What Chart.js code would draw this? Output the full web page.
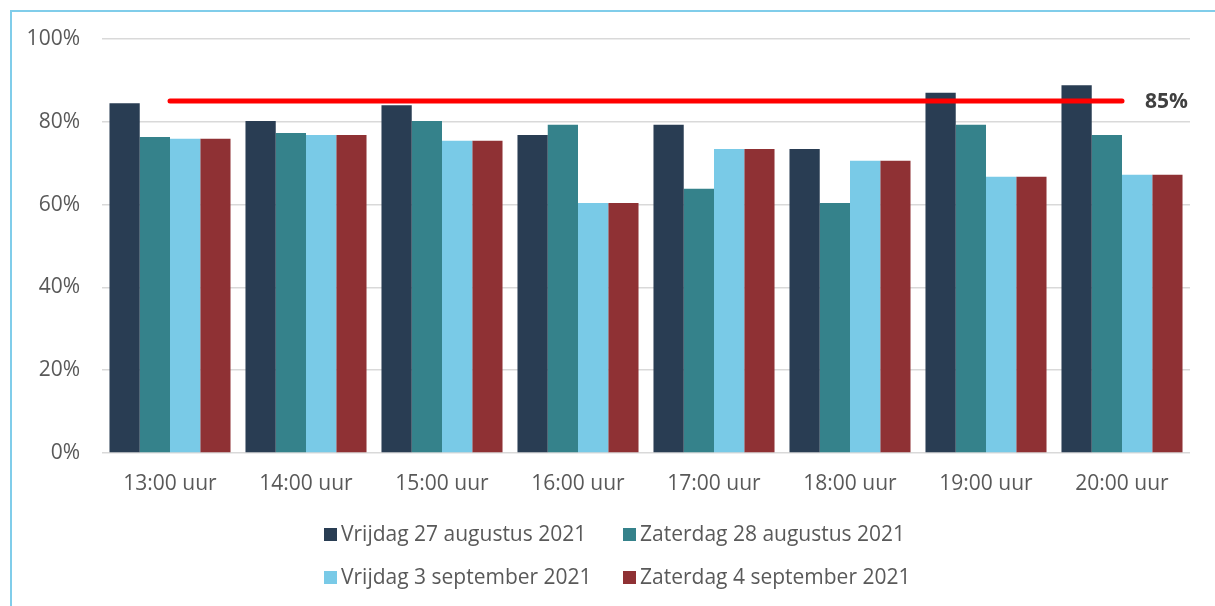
<!DOCTYPE html>
<html>
<head>
<meta charset="utf-8">
<script src="https://cdn.jsdelivr.net/npm/chart.js@4/dist/chart.umd.min.js"></script>
<style>
  html, body { margin: 0; padding: 0; background: #fff; }
  #wrap { position: relative; width: 1215px; height: 606px; overflow: hidden; }
  #frame { position: absolute; left: 10px; top: 10px; width: 1300px; height: 700px;
           border-left: 2px solid #80cdea; border-top: 2px solid #80cdea; }
  #holder { position: absolute; left: 0; top: 0; width: 1215px; height: 606px; }
</style>
</head>
<body>
<div id="wrap">
  <div id="frame"></div>
  <div id="holder"><canvas id="grafiek"></canvas></div>
</div>
<script>
// ===============================
// DATA
// ===============================

const uren = ["13:00 uur", "14:00 uur", "15:00 uur", "16:00 uur", "17:00 uur", "18:00 uur", "19:00 uur", "20:00 uur"];

const vrijdag27aug  = [84.5, 80.2, 84.0, 76.8, 79.3, 73.4, 87.0, 88.8];
const zaterdag28aug = [76.3, 77.3, 80.2, 79.3, 63.8, 60.4, 79.3, 76.8];
const vrijdag3sep   = [75.9, 76.8, 75.4, 60.4, 73.4, 70.6, 66.7, 67.2];
const zaterdag4sep  = [75.9, 76.8, 75.4, 60.4, 73.4, 70.6, 66.7, 67.2];

const norm = 85;
const yTicks = [0, 20, 40, 60, 80, 100];

const lettertype = "'Open Sans', 'Noto Sans', sans-serif";

// ===============================
// PLUGINS
// ===============================

// label "85%" naast het eind van de rode lijn
const normLabel = {
    id: "normLabel",
    afterDatasetsDraw(chart) {
        const meta = chart.getDatasetMeta(4);
        const p = meta.data[meta.data.length - 1];
        const ctx = chart.ctx;
        ctx.save();
        ctx.font = "bold 21px " + lettertype;
        ctx.fillStyle = "#404040";
        ctx.textAlign = "left";
        ctx.textBaseline = "middle";
        ctx.fillText(norm + "%", p.x + 23, p.y + 1);
        ctx.restore();
    }
};

// legenda in twee rijen van twee
const legenda = {
    id: "legenda",
    afterDraw(chart) {
        const ctx = chart.ctx;
        const kolommen = [324, 623];
        const rijen = [535, 578];
        ctx.save();
        ctx.font = "21px " + lettertype;
        ctx.textBaseline = "middle";
        ctx.textAlign = "left";
        chart.data.datasets.slice(0, 4).forEach((ds, i) => {
            const x = kolommen[i % 2];
            const y = rijen[Math.floor(i / 2)];
            ctx.fillStyle = ds.backgroundColor;
            ctx.fillRect(x, y - 7, 13, 13);
            ctx.fillStyle = "#595959";
            ctx.fillText(ds.label, x + 17, y);
        });
        ctx.restore();
    }
};

// ===============================
// GRAFIEK
// ===============================

new Chart(document.getElementById("grafiek"), {
    type: "bar",
    data: {
        labels: uren,
        datasets: [
            { label: "Vrijdag 27 augustus 2021", data: vrijdag27aug, backgroundColor: "#293d53", order: 1 },
            { label: "Zaterdag 28 augustus 2021", data: zaterdag28aug, backgroundColor: "#35828b", order: 1 },
            { label: "Vrijdag 3 september 2021", data: vrijdag3sep, backgroundColor: "#79cae7", order: 1 },
            { label: "Zaterdag 4 september 2021", data: zaterdag4sep, backgroundColor: "#8f3134", order: 1 },
            {
                type: "line",
                label: "Norm",
                data: uren.map(() => norm),
                borderColor: "#ff0000",
                borderWidth: 5,
                borderCapStyle: "round",
                pointRadius: 0,
                fill: false,
                order: 0
            }
        ]
    },
    options: {
        responsive: true,
        maintainAspectRatio: false,
        animation: false,
        layout: { padding: { left: 0, right: 25, top: 39, bottom: 108 } },
        datasets: {
            bar: { categoryPercentage: 0.89, barPercentage: 1.0 }
        },
        plugins: {
            legend: { display: false },
            tooltip: { enabled: false }
        },
        scales: {
            x: {
                grid: { display: false },
                border: { display: false },
                ticks: {
                    color: "#595959",
                    font: { family: lettertype, size: 21 },
                    padding: 10,
                    maxRotation: 0
                },
                afterFit: s => { s.height = 45; }
            },
            y: {
                min: 0,
                max: 100,
                afterBuildTicks: s => { s.ticks = yTicks.map(v => ({ value: v })); },
                grid: { color: "#d9d9d9", lineWidth: 1.5, drawTicks: false },
                border: { display: false },
                ticks: {
                    color: "#595959",
                    font: { family: lettertype, size: 21 },
                    padding: 22,
                    callback: v => v + "%"
                },
                afterFit: s => { s.width = 102; }
            }
        }
    },
    plugins: [normLabel, legenda]
});
</script>
</body>
</html>
